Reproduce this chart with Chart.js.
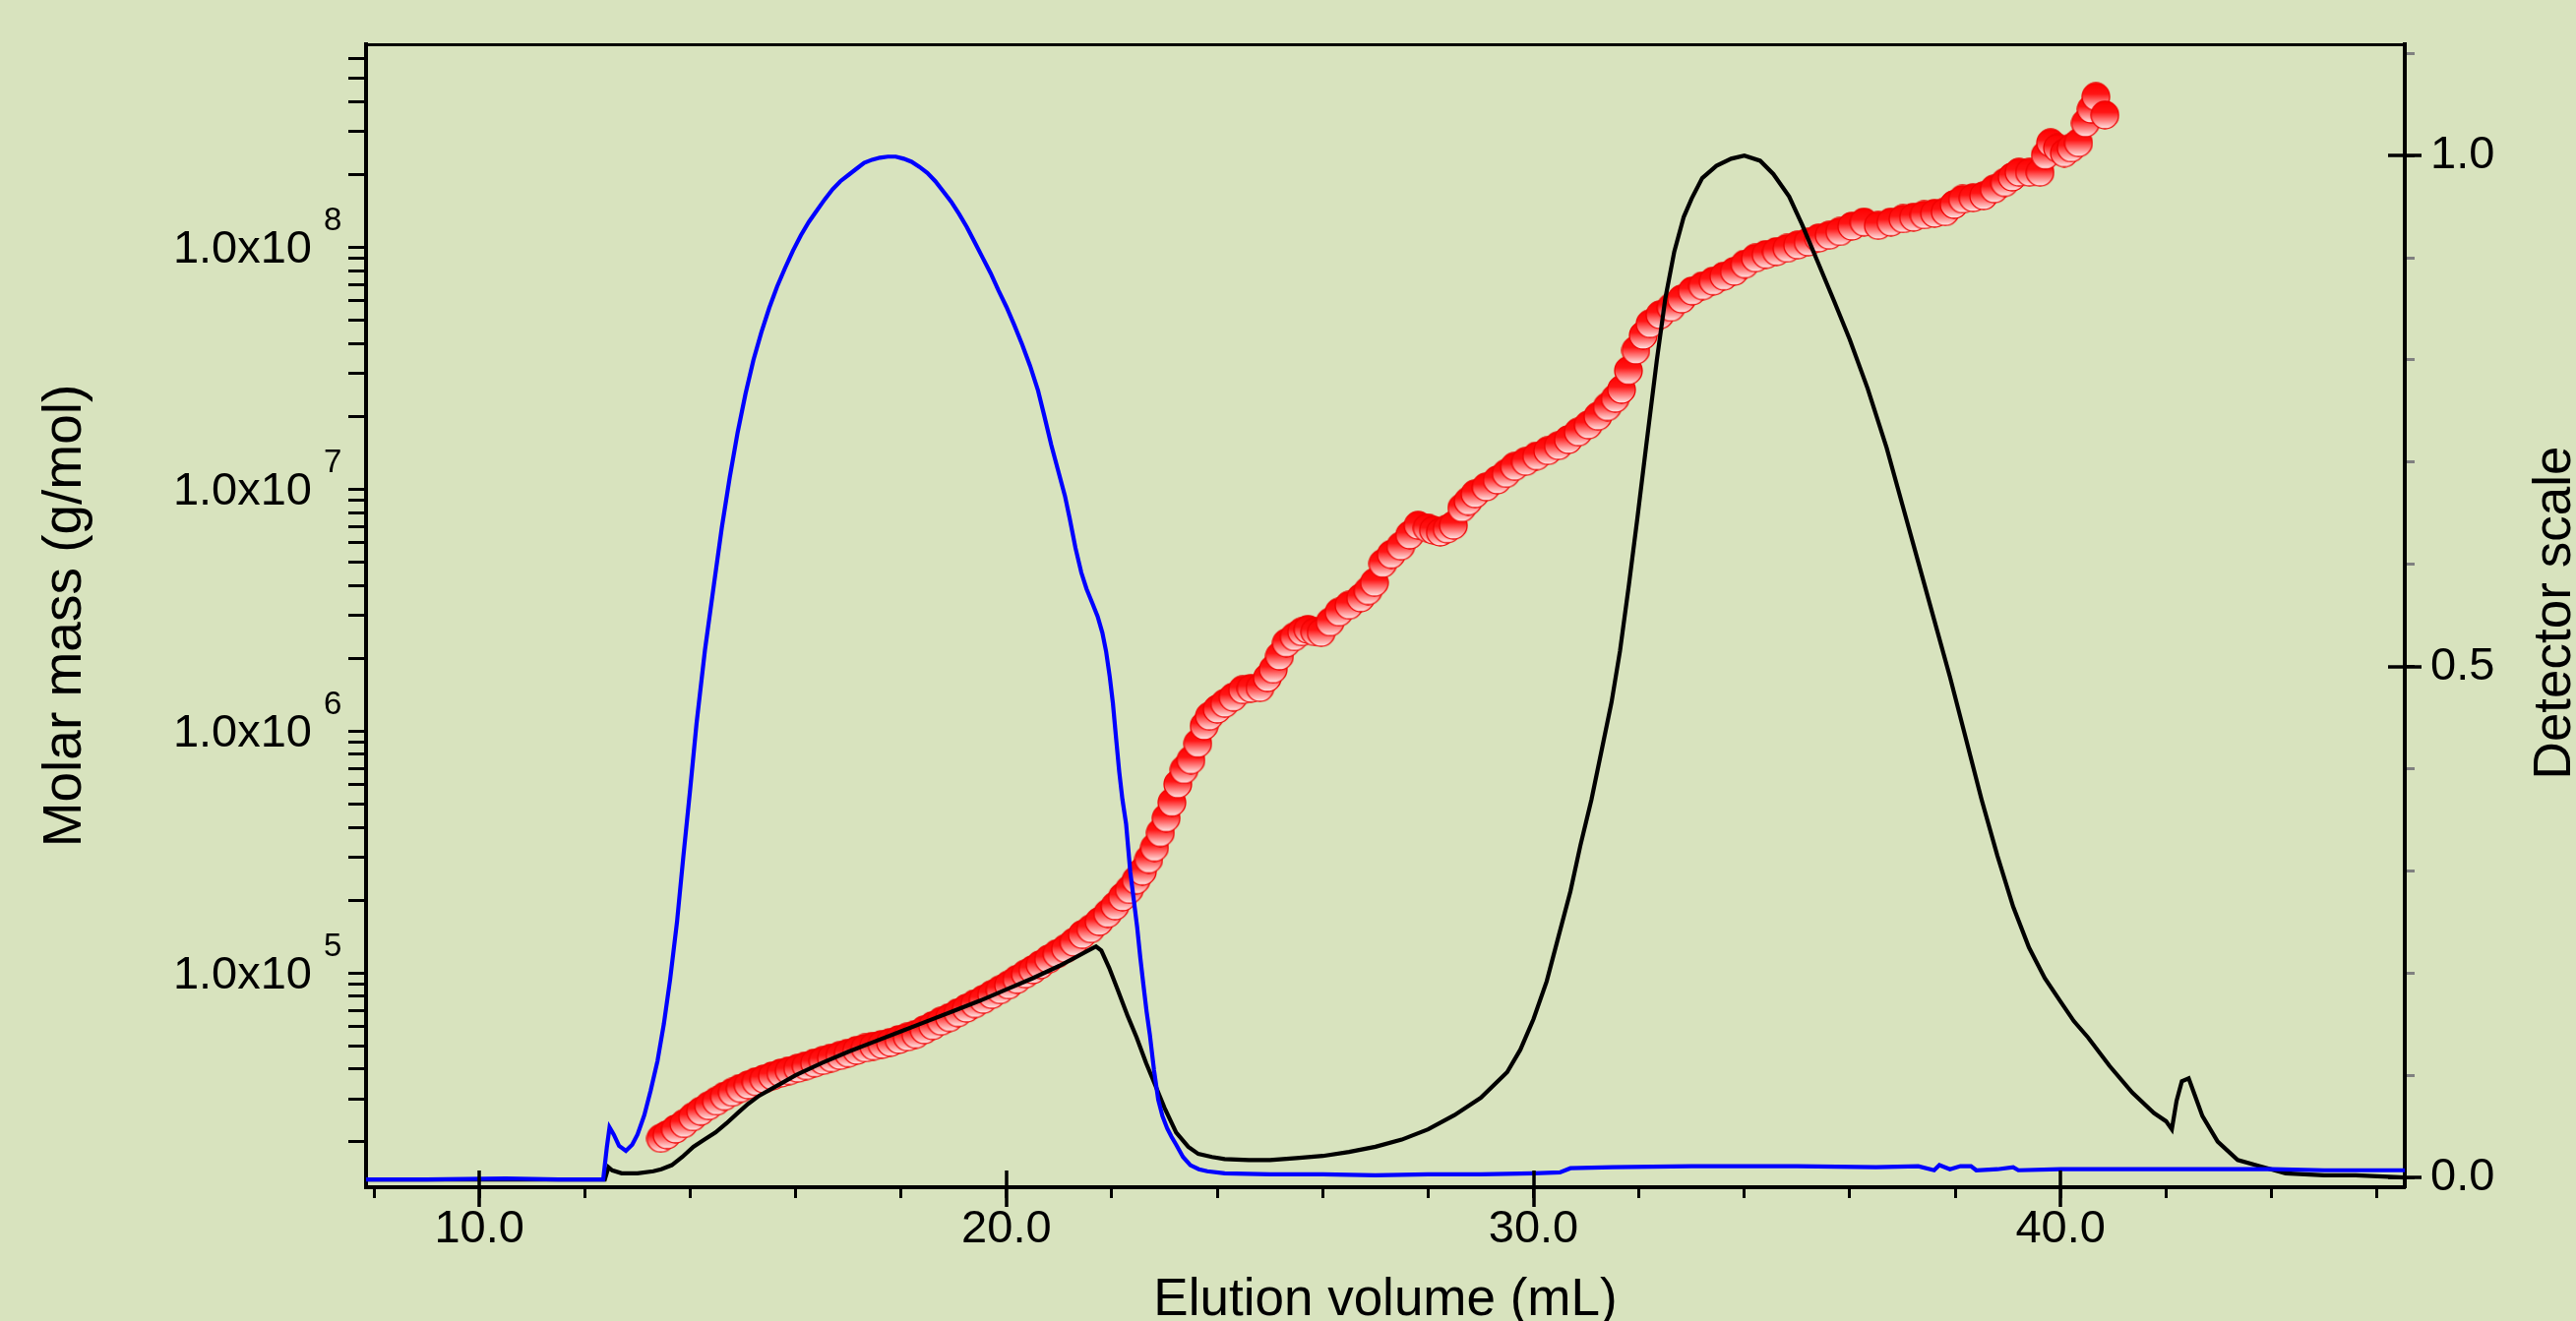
<!DOCTYPE html>
<html>
<head>
<meta charset="utf-8">
<script src="https://cdn.jsdelivr.net/npm/chart.js@4.4.1/dist/chart.umd.min.js"></script>
<style>
  html, body { margin: 0; padding: 0; background: #d8e3be; overflow: hidden; }
  canvas { display: block; }
</style>
</head>
<body>
<canvas id="chart" width="2618" height="1343"></canvas>
<script>
// Blue detector trace (elution volume in mL, detector scale)
const blueVolume = [7.85, 9.0, 10.5, 11.5, 12.35, 12.42, 12.47, 12.55, 12.65, 12.78, 12.9, 13.0, 13.13, 13.25, 13.38, 13.5, 13.62, 13.75, 13.87, 14.0,
  14.12, 14.28, 14.45, 14.6, 14.75, 14.9, 15.05, 15.2, 15.35, 15.5, 15.65, 15.8, 15.95, 16.1, 16.25, 16.4, 16.55, 16.7, 16.85, 17.0,
  17.15, 17.3, 17.45, 17.6, 17.75, 17.9, 18.05, 18.2, 18.35, 18.5, 18.65, 18.8, 18.95, 19.1, 19.25, 19.4, 19.55, 19.7, 19.85, 20.0,
  20.15, 20.3, 20.45, 20.6, 20.72, 20.85, 20.98, 21.11, 21.2, 21.31, 21.42, 21.52, 21.63, 21.73, 21.82, 21.89, 21.96, 22.02, 22.08, 22.14,
  22.2, 22.27, 22.35, 22.42, 22.48, 22.54, 22.6, 22.66, 22.72, 22.8, 22.88, 22.96, 23.05, 23.13, 23.22, 23.35, 23.49, 23.65, 23.81, 24.14,
  25.0, 26.0, 27.0, 28.0, 29.0, 30.0, 30.5, 30.7, 31.5, 33.0, 35.0, 36.5, 37.3, 37.6, 37.7, 37.9, 38.1, 38.3, 38.4, 38.8,
  39.1, 39.2, 40.0, 42.0, 44.0, 45.0, 46.53];
const blueSignal = [-0.002, -0.002, -0.001, -0.002, -0.002, 0.03, 0.049, 0.042, 0.031, 0.026, 0.032, 0.042, 0.061, 0.085, 0.114, 0.15, 0.194, 0.25, 0.314, 0.38,
  0.444, 0.516, 0.58, 0.636, 0.685, 0.729, 0.767, 0.80, 0.827, 0.851, 0.872, 0.89, 0.907, 0.922, 0.935, 0.946, 0.957, 0.967, 0.975, 0.981,
  0.987, 0.993, 0.996, 0.998, 0.999, 0.999, 0.997, 0.994, 0.989, 0.983, 0.975, 0.965, 0.955, 0.943, 0.93, 0.915, 0.90, 0.885, 0.868, 0.852,
  0.834, 0.815, 0.794, 0.770, 0.745, 0.717, 0.692, 0.667, 0.645, 0.616, 0.592, 0.576, 0.562, 0.549, 0.533, 0.515, 0.49, 0.464, 0.43, 0.397,
  0.37, 0.346, 0.299, 0.27, 0.245, 0.215, 0.188, 0.162, 0.140, 0.105, 0.076, 0.06, 0.048, 0.04, 0.032, 0.02, 0.012, 0.008, 0.006, 0.004,
  0.003, 0.003, 0.002, 0.003, 0.003, 0.004, 0.005, 0.009, 0.010, 0.011, 0.011, 0.010, 0.011, 0.007, 0.012, 0.008, 0.011, 0.011, 0.007, 0.008,
  0.010, 0.007, 0.008, 0.008, 0.008, 0.007, 0.007];

// Black detector trace
const blackVolume = [7.85, 12.38, 12.45, 12.52, 12.7, 13.0, 13.3, 13.45, 13.65, 13.85, 14.06, 14.27, 14.48, 14.69, 14.9, 15.1, 15.31, 15.52, 15.73, 16.0,
  16.5, 17.0, 17.5, 18.0, 18.5, 19.0, 19.5, 20.0, 20.5, 21.0, 21.3, 21.55, 21.7, 21.8, 21.95, 22.1, 22.3, 22.47, 22.65, 22.81,
  23.0, 23.22, 23.45, 23.64, 23.9, 24.14, 24.6, 25.0, 25.5, 26.0, 26.5, 27.0, 27.5, 28.0, 28.5, 29.0, 29.5, 29.75, 30.0, 30.25,
  30.47, 30.7, 30.89, 31.1, 31.3, 31.48, 31.64, 31.81, 31.97, 32.14, 32.34, 32.5, 32.67, 32.85, 33.0, 33.2, 33.47, 33.75, 34.0, 34.3,
  34.55, 34.85, 35.1, 35.4, 35.7, 36.0, 36.34, 36.7, 37.0, 37.3, 37.6, 37.9, 38.2, 38.5, 38.8, 39.1, 39.4, 39.7, 40.0, 40.25,
  40.52, 40.93, 41.36, 41.77, 42.0, 42.11, 42.2, 42.3, 42.43, 42.55, 42.69, 42.98, 43.36, 43.77, 44.27, 45.0, 45.6, 46.53];
const blackSignal = [-0.002, -0.002, 0.010, 0.007, 0.004, 0.004, 0.006, 0.008, 0.012, 0.02, 0.030, 0.037, 0.044, 0.053, 0.063, 0.072, 0.080, 0.086, 0.092, 0.100,
  0.112, 0.123, 0.133, 0.143, 0.153, 0.163, 0.173, 0.184, 0.195, 0.207, 0.215, 0.222, 0.226, 0.222, 0.205, 0.185, 0.158, 0.137, 0.112, 0.092,
  0.068, 0.044, 0.030, 0.023, 0.020, 0.018, 0.017, 0.017, 0.019, 0.021, 0.025, 0.030, 0.037, 0.047, 0.061, 0.078, 0.103, 0.125, 0.155, 0.192,
  0.235, 0.28, 0.325, 0.37, 0.42, 0.465, 0.515, 0.58, 0.645, 0.717, 0.80, 0.86, 0.906, 0.94, 0.958, 0.978, 0.99, 0.997, 1.0, 0.995,
  0.982, 0.96, 0.932, 0.895, 0.858, 0.82, 0.772, 0.714, 0.658, 0.602, 0.546, 0.49, 0.43, 0.37, 0.315, 0.265, 0.225, 0.195, 0.172, 0.153,
  0.137, 0.109, 0.083, 0.063, 0.055, 0.047, 0.075, 0.094, 0.097, 0.08, 0.06, 0.035, 0.017, 0.011, 0.004, 0.002, 0.002, 0.0];

// Molar mass points (mL, g/mol)
const massVolume = [13.44, 13.56, 13.72, 13.88, 14.05, 14.2, 14.35, 14.5, 14.65, 14.8, 14.95, 15.1, 15.25, 15.4, 15.56, 15.72, 15.88, 16.04, 16.2, 16.36,
  16.52, 16.68, 16.84, 17.0, 17.16, 17.32, 17.48, 17.64, 17.8, 17.96, 18.12, 18.28, 18.44, 18.6, 18.76, 18.92, 19.08, 19.24, 19.4, 19.56,
  19.72, 19.88, 20.04, 20.2, 20.36, 20.5, 20.64, 20.8, 20.96, 21.12, 21.28, 21.44, 21.6, 21.76, 21.92, 22.06, 22.2, 22.33, 22.46, 22.58,
  22.7, 22.81, 22.92, 23.03, 23.14, 23.25, 23.37, 23.5, 23.63, 23.75, 23.85, 24.0, 24.14, 24.3, 24.48, 24.64, 24.81, 24.95, 25.06, 25.18,
  25.31, 25.46, 25.6, 25.72, 25.85, 25.97, 26.14, 26.31, 26.5, 26.72, 26.86, 26.98, 27.14, 27.3, 27.48, 27.65, 27.81, 27.98, 28.1, 28.23,
  28.36, 28.48, 28.64, 28.76, 28.89, 29.1, 29.31, 29.48, 29.64, 29.85, 30.06, 30.27, 30.47, 30.66, 30.85, 31.04, 31.22, 31.4, 31.55, 31.67,
  31.8, 31.94, 32.08, 32.21, 32.4, 32.61, 32.81, 33.01, 33.21, 33.41, 33.61, 33.81, 34.01, 34.21, 34.41, 34.61, 34.81, 35.01, 35.21, 35.41,
  35.61, 35.81, 36.04, 36.27, 36.54, 36.78, 37.01, 37.21, 37.41, 37.61, 37.81, 37.98, 38.14, 38.34, 38.54, 38.74, 38.94, 39.08, 39.21, 39.41,
  39.61, 39.71, 39.81, 39.94, 40.07, 40.2, 40.34, 40.47, 40.58, 40.67, 40.84];
const molarMass = [2.07e4, 2.14e4, 2.26e4, 2.38e4, 2.54e4, 2.68e4, 2.82e4, 2.95e4, 3.09e4, 3.21e4, 3.33e4, 3.44e4, 3.55e4, 3.64e4, 3.75e4, 3.85e4, 3.94e4, 4.03e4, 4.13e4, 4.24e4,
  4.34e4, 4.45e4, 4.55e4, 4.66e4, 4.78e4, 4.89e4, 4.98e4, 5.06e4, 5.16e4, 5.30e4, 5.43e4, 5.57e4, 5.81e4, 6.05e4, 6.31e4, 6.53e4, 6.84e4, 7.14e4, 7.45e4, 7.76e4,
  8.13e4, 8.51e4, 8.91e4, 9.40e4, 9.89e4, 1.03e5, 1.08e5, 1.14e5, 1.20e5, 1.26e5, 1.34e5, 1.44e5, 1.52e5, 1.63e5, 1.76e5, 1.89e5, 2.06e5, 2.21e5, 2.42e5, 2.63e5,
  2.95e5, 3.30e5, 3.80e5, 4.37e5, 5.07e5, 6.03e5, 6.92e5, 7.59e5, 8.89e5, 1.05e6, 1.15e6, 1.23e6, 1.30e6, 1.38e6, 1.48e6, 1.50e6, 1.51e6, 1.66e6, 1.80e6, 2.04e6,
  2.31e6, 2.45e6, 2.57e6, 2.63e6, 2.57e6, 2.55e6, 2.82e6, 3.10e6, 3.31e6, 3.55e6, 3.80e6, 4.11e6, 4.93e6, 5.37e6, 5.81e6, 6.46e6, 7.08e6, 6.92e6, 6.76e6, 6.64e6,
  6.84e6, 7.08e6, 8.36e6, 8.91e6, 9.55e6, 1.02e7, 1.09e7, 1.16e7, 1.24e7, 1.30e7, 1.37e7, 1.44e7, 1.51e7, 1.60e7, 1.72e7, 1.84e7, 2.00e7, 2.19e7, 2.37e7, 2.58e7,
  3.09e7, 3.75e7, 4.32e7, 4.82e7, 5.25e7, 5.64e7, 6.10e7, 6.59e7, 6.92e7, 7.24e7, 7.59e7, 7.94e7, 8.51e7, 9.02e7, 9.33e7, 9.59e7, 9.89e7, 1.02e8, 1.05e8, 1.09e8,
  1.12e8, 1.16e8, 1.22e8, 1.27e8, 1.23e8, 1.27e8, 1.31e8, 1.33e8, 1.36e8, 1.38e8, 1.40e8, 1.50e8, 1.58e8, 1.60e8, 1.63e8, 1.74e8, 1.85e8, 1.95e8, 2.04e8, 2.04e8,
  2.04e8, 2.40e8, 2.70e8, 2.57e8, 2.45e8, 2.57e8, 2.70e8, 3.26e8, 3.72e8, 4.19e8, 3.52e8];

// Axis ticks
const volumeTicks = [8, 10, 12, 14, 16, 18, 20, 22, 24, 26, 28, 30, 32, 34, 36, 38, 40, 42, 44, 46];
const volumeLabels = [10, 20, 30, 40];
const massTicks = [2e4, 3e4, 4e4, 5e4, 6e4, 7e4, 8e4, 9e4,
  1e5, 2e5, 3e5, 4e5, 5e5, 6e5, 7e5, 8e5, 9e5,
  1e6, 2e6, 3e6, 4e6, 5e6, 6e6, 7e6, 8e6, 9e6,
  1e7, 2e7, 3e7, 4e7, 5e7, 6e7, 7e7, 8e7, 9e7,
  1e8, 2e8, 3e8, 4e8, 5e8, 6e8];
const massLabelExponents = [5, 6, 7, 8];
const detectorTicks = [0, 0.1, 0.2, 0.3, 0.4, 0.5, 0.6, 0.7, 0.8, 0.9, 1.0, 1.1];
const detectorLabels = [0, 0.5, 1.0];

const bg = '#d8e3be';
const fontFamily = '"Liberation Sans", Arial, sans-serif';

function toPoints(xs, ys) {
  return xs.map((x, i) => ({ x: x, y: ys[i] }));
}

// red sphere marker
const dot = document.createElement('canvas');
dot.width = 30;
dot.height = 30;
(function () {
  const g = dot.getContext('2d');
  const grad = g.createLinearGradient(0, 1, 0, 29);
  grad.addColorStop(0, '#ff0000');
  grad.addColorStop(0.4, '#ff1414');
  grad.addColorStop(1, '#ffeaea');
  g.beginPath();
  g.arc(15, 15, 14, 0, Math.PI * 2);
  g.fillStyle = grad;
  g.fill();
  g.lineWidth = 1.3;
  g.strokeStyle = '#f00000';
  g.stroke();
})();

function isLabel(list, v) {
  return list.some(l => Math.abs(l - v) < 1e-6);
}

const overlay = {
  id: 'overlay',
  beforeDraw(chart) {
    const c = chart.ctx;
    c.save();
    c.fillStyle = bg;
    c.fillRect(0, 0, chart.width, chart.height);
    c.restore();
  },
  afterDraw(chart) {
    const c = chart.ctx;
    const a = chart.chartArea;
    const s = chart.scales;
    c.save();
    c.strokeStyle = '#000';
    c.lineWidth = 3.5;
    // major ticks cross the axis
    volumeLabels.forEach(v => {
      const px = Math.round(s.x.getPixelForValue(v));
      c.beginPath();
      c.moveTo(px, a.bottom - 17);
      c.lineTo(px, a.bottom + 20);
      c.stroke();
    });
    detectorLabels.forEach(v => {
      const py = Math.round(s.y2.getPixelForValue(v));
      c.beginPath();
      c.moveTo(a.right - 17, py);
      c.lineTo(a.right + 17, py);
      c.stroke();
    });
    // left labels with superscript
    c.fillStyle = '#000';
    massLabelExponents.forEach(e => {
      const py = s.y.getPixelForValue(Math.pow(10, e));
      c.font = '47px ' + fontFamily;
      c.textAlign = 'right';
      c.textBaseline = 'alphabetic';
      c.fillText('1.0x10', a.left - 55, py + 16);
      c.font = '33px ' + fontFamily;
      c.textAlign = 'left';
      c.fillText(String(e), a.left - 43, py - 17);
    });
    // axis titles
    const midY = (a.top + a.bottom) / 2;
    c.font = '55px ' + fontFamily;
    c.textAlign = 'center';
    c.textBaseline = 'alphabetic';
    c.save();
    c.translate(82, midY);
    c.rotate(-Math.PI / 2);
    c.fillText('Molar mass (g/mol)', 0, 0);
    c.restore();
    c.font = '53px ' + fontFamily;
    c.save();
    c.translate(2612, midY - 3);
    c.rotate(-Math.PI / 2);
    c.fillText('Detector scale', 0, 0);
    c.restore();
    c.fillText('Elution volume (mL)', (a.left + a.right) / 2, 1337);
    c.restore();
  }
};

const ctx = document.getElementById('chart').getContext('2d');

const chart = new Chart(ctx, {
  type: 'scatter',
  data: {
    datasets: [{
      label: 'Trace 1',
      data: toPoints(blueVolume, blueSignal),
      showLine: true,
      borderColor: '#0000ff',
      borderWidth: 4.2,
      pointRadius: 0,
      tension: 0,
      xAxisID: 'x',
      yAxisID: 'y2'
    }, {
      label: 'Trace 2',
      data: toPoints(blackVolume, blackSignal),
      showLine: true,
      borderColor: '#000000',
      borderWidth: 4.2,
      pointRadius: 0,
      tension: 0,
      xAxisID: 'x',
      yAxisID: 'y2'
    }, {
      label: 'Molar mass',
      data: toPoints(massVolume, molarMass),
      showLine: false,
      pointStyle: dot,
      pointRadius: 14,
      xAxisID: 'x',
      yAxisID: 'y'
    }]
  },
  options: {
    responsive: false,
    animation: false,
    devicePixelRatio: 1,
    layout: { padding: 0 },
    plugins: {
      legend: { display: false },
      tooltip: { enabled: false }
    },
    scales: {
      x: {
        type: 'linear',
        position: 'bottom',
        min: 7.85,
        max: 46.53,
        afterBuildTicks: axis => { axis.ticks = volumeTicks.map(v => ({ value: v })); },
        afterFit: axis => { axis.height = 136; },
        ticks: {
          autoSkip: false,
          maxRotation: 0,
          padding: 4,
          color: '#000',
          font: { family: fontFamily, size: 47 },
          callback: v => isLabel(volumeLabels, v) ? v.toFixed(1) : ''
        },
        grid: { drawOnChartArea: false, drawTicks: true, tickLength: 11, tickWidth: 3, tickColor: '#000' },
        border: { color: '#000', width: 4 }
      },
      xTop: {
        type: 'linear',
        position: 'top',
        min: 7.85,
        max: 46.53,
        afterFit: axis => { axis.height = 45; },
        ticks: { display: false },
        grid: { display: false, drawTicks: false },
        border: { color: '#000', width: 3 }
      },
      y: {
        type: 'logarithmic',
        position: 'left',
        min: 1.3e4,
        max: 6.9e8,
        afterBuildTicks: axis => { axis.ticks = massTicks.map(v => ({ value: v })); },
        afterFit: axis => { axis.width = 372; },
        ticks: { display: false },
        grid: { drawOnChartArea: false, drawTicks: true, tickLength: 18, tickWidth: 3, tickColor: '#000' },
        border: { color: '#000', width: 4 }
      },
      y2: {
        type: 'linear',
        position: 'right',
        min: -0.0096,
        max: 1.109,
        afterBuildTicks: axis => { axis.ticks = detectorTicks.map(v => ({ value: v })); },
        afterFit: axis => { axis.width = 174; },
        ticks: {
          autoSkip: false,
          padding: 16,
          color: '#000',
          font: { family: fontFamily, size: 47 },
          callback: v => isLabel(detectorLabels, v) ? v.toFixed(1) : ''
        },
        grid: {
          drawOnChartArea: false,
          drawTicks: true,
          tickLength: 10,
          tickWidth: 3,
          tickColor: c => (c.tick && isLabel(detectorLabels, c.tick.value)) ? '#000' : '#808080'
        },
        border: { color: '#000', width: 4 }
      }
    }
  },
  plugins: [overlay]
});
</script>
</body>
</html>
